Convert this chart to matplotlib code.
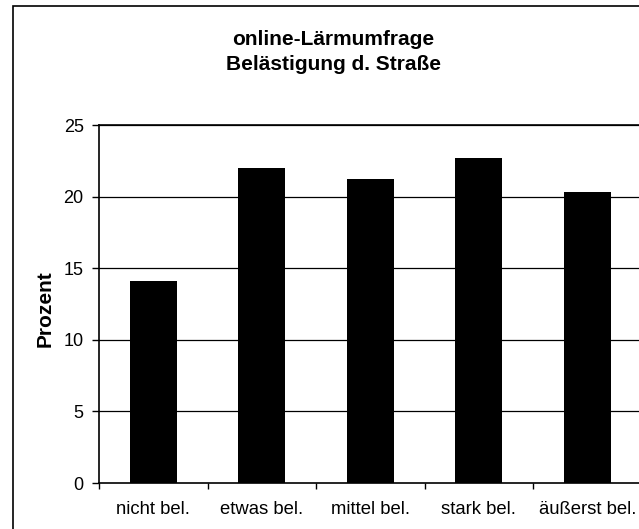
import matplotlib
matplotlib.use("Agg")
import matplotlib.pyplot as plt
from matplotlib.patches import Rectangle

# Werte
kategorien = ["nicht bel.", "etwas bel.", "mittel bel.", "stark bel.", "äußerst bel."]
prozent = [14.1, 22.0, 21.25, 22.7, 20.3]
y_ticks = [0, 5, 10, 15, 20, 25]

plt.rcParams['font.family'] = ['Liberation Sans', 'DejaVu Sans']

W, H = 639, 529
fig = plt.figure(figsize=(W / 100, H / 100), dpi=100, facecolor='white')

# Rahmen um das ganze Diagramm (rechts/unten abgeschnitten)
fig.patches.append(Rectangle((13 / W, -0.05), 1.2, 1 - 6 / H + 0.05,
                             transform=fig.transFigure, fill=False,
                             edgecolor='black', linewidth=1.2))

# Zeichenfläche: links 99 px, oben 125 px, unten 483 px, rechts ~641 px
ax = fig.add_axes([99 / W, 1 - 483 / H, (641.5 - 99) / W, (483 - 125) / H])
x = range(len(kategorien))
ax.bar(x, prozent, width=0.43, color='black', zorder=3)

ax.set_ylim(0, 25)
ax.set_xlim(-0.5, 4.5)
ax.set_yticks(y_ticks)
ax.set_yticklabels([str(v) for v in y_ticks], fontsize=13)
for v in y_ticks[1:]:
    ax.axhline(v, color='black', linewidth=0.9, zorder=1)

ax.set_xticks([i - 0.5 for i in range(len(kategorien) + 1)])
ax.set_xticklabels([])
ax.set_xticks(list(x), minor=True)
ax.set_xticklabels(kategorien, minor=True, fontsize=13.3)
ax.tick_params(axis='x', which='minor', length=0, pad=13)
ax.tick_params(axis='x', which='major', length=4.5, direction='out', width=1)
ax.tick_params(axis='y', length=5, direction='out', width=1, pad=6)

ax.spines['right'].set_visible(False)
for s in ['left', 'bottom', 'top']:
    ax.spines[s].set_linewidth(1.2)
    ax.spines[s].set_color('black')

fig.text(45.5 / W, 1 - 308.5 / H, 'Prozent', rotation=90, ha='center', va='center',
         fontsize=15, fontweight='bold')

fig.text(333 / W, 1 - 45 / H, 'online-Lärmumfrage', ha='center', va='baseline',
         fontsize=15, fontweight='bold')
fig.text(333 / W, 1 - 70 / H, 'Belästigung d. Straße', ha='center', va='baseline',
         fontsize=15, fontweight='bold')

fig.savefig('out.png', dpi=100, facecolor='white')
